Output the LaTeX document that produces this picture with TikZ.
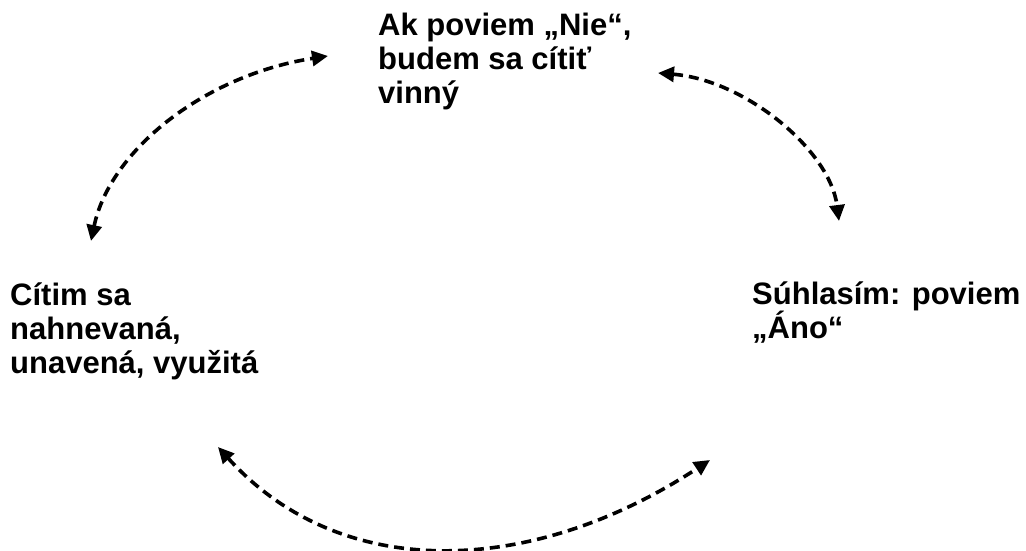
\documentclass[tikz,border=0pt]{standalone}
\usepackage{fontspec}
\setmainfont{Liberation Sans}
\usetikzlibrary{arrows.meta}
\begin{document}
\begin{tikzpicture}[x=1pt,y=-1pt,
  lbl/.style={anchor=base west,inner sep=0pt,align=left,
    font=\fontsize{31}{34}\selectfont\bfseries},
  conn/.style={line width=3.6pt,dash pattern=on 10pt off 6pt,
    {Triangle[length=16pt,width=15pt]}-{Triangle[length=16pt,width=15pt]}}]
\useasboundingbox[fill=white] (0,0) rectangle (1026,550);
\node[lbl] (top) at (378,103) {Ak poviem „Nie“,\\budem sa cítiť\\vinný};
\node[lbl] (left) at (10,373) {Cítim sa\\nahnevaná,\\unavená, využitá};
\node[lbl] (right) at (752,338) {Súhlasím: poviem\\„Áno“};
\coordinate (a1) at (91,241);
\coordinate (a2) at (328,56);
\coordinate (b1) at (658,73);
\coordinate (b2) at (839,221);
\coordinate (c1) at (218,447);
\coordinate (c2) at (710,460);
\draw[conn] (a1) .. controls (110,150) and (205,75) .. (a2);
\draw[conn] (b1) .. controls (745,80) and (830,150) .. (b2);
\draw[conn] (c1) .. controls (343,585) and (535,575) .. (c2);
\end{tikzpicture}
\end{document}
